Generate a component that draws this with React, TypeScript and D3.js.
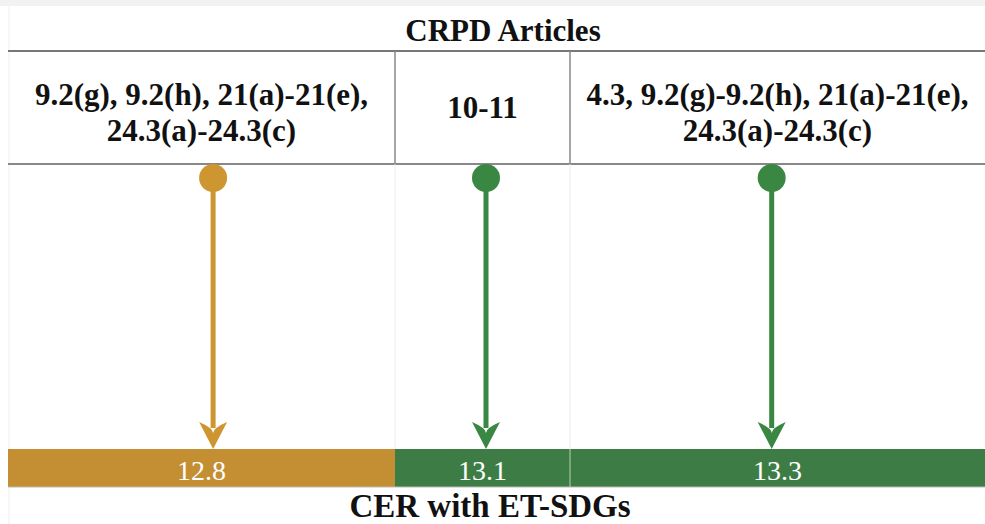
import * as d3 from "d3"

// CRPD article groups (one per column) and the CER value they map to
const articleLines: string[][] = [
  ["9.2(g), 9.2(h), 21(a)-21(e),", "24.3(a)-24.3(c)"],
  ["10-11"],
  ["4.3, 9.2(g)-9.2(h), 21(a)-21(e),", "24.3(a)-24.3(c)"],
]
const cerValues = [12.8, 13.1, 13.3]
const sdgGroup = ["ochre", "green", "green"]
const headerTitle = "CRPD Articles"
const footerTitle = "CER with ET-SDGs"

// layout
const W = 985
const H = 524
const left = 8
const colWeights = [387, 175, 415]
const arrowFrac = [0.53, 0.52, 0.486] // where the arrow sits inside its column
const yTop = 51
const yRow = 164
const yBarTop = 449
const yBarBot = 487
const serif = { fontFamily: "Liberation Serif" }

const barColor = d3.scaleOrdinal<string, string>().domain(["ochre", "green"]).range(["#C48E32", "#3D7D45"])
const markColor = d3.scaleOrdinal<string, string>().domain(["ochre", "green"]).range(["#CD9631", "#3A8744"])

export default function App() {
  const cum = d3.cumsum(colWeights)
  const x = d3.scaleLinear().domain([0, cum[cum.length - 1]]).range([left, W])
  const edges = [0, ...Array.from(cum)].map((v) => x(v))
  const cols = cerValues.map((v, i) => ({
    value: v,
    group: sdgGroup[i],
    lines: articleLines[i],
    x0: edges[i],
    x1: edges[i + 1],
    cx: (edges[i] + edges[i + 1]) / 2,
    ax: d3.interpolateNumber(edges[i], edges[i + 1])(arrowFrac[i]),
  }))

  const dotY = 178
  const headLen = 27
  const headHalf = 14

  return (
    <svg width={W} height={H} style={{ position: "absolute", left: 0, top: 0, background: "#fff" }}>
      <rect x={0} y={0} width={W} height={6} fill="#f2f2f2" />
      <line x1={left + 1} x2={left + 1} y1={6} y2={H} stroke="#eeeeee" strokeWidth={1} />

      <text x={503} y={41} textAnchor="middle" fontSize={31} fontWeight="bold" fill="#111" style={serif}>
        {headerTitle}
      </text>

      <line x1={left} x2={W} y1={yTop} y2={yTop} stroke="#777" strokeWidth={1.8} />
      <line x1={left} x2={W} y1={yRow} y2={yRow} stroke="#888" strokeWidth={1.8} />

      {edges.slice(1, -1).map((ex, i) => (
        <g key={"d" + i}>
          <line x1={ex} x2={ex} y1={yTop} y2={yRow} stroke="#888" strokeWidth={1.5} />
          <line x1={ex} x2={ex} y1={yRow} y2={yBarTop} stroke="#ececec" strokeWidth={1} />
        </g>
      ))}

      {cols.map((c, i) => {
        const mid = (yTop + yRow) / 2
        const n = c.lines.length
        const lh = 36
        const shift = n > 1 ? 5 : 0
        return (
          <text key={"t" + i} textAnchor="middle" fontSize={31} fontWeight="bold" fill="#111" style={serif}>
            {c.lines.map((l, j) => (
              <tspan key={j} x={c.cx} y={mid + 10 + shift + (j - (n - 1) / 2) * lh}>
                {l}
              </tspan>
            ))}
          </text>
        )
      })}

      {cols.map((c, i) => (
        <g key={"a" + i}>
          <line
            x1={c.ax}
            x2={c.ax}
            y1={dotY}
            y2={yBarTop - headLen + 6}
            stroke={markColor(c.group)}
            strokeWidth={5}
          />
          <path
            d={`M${c.ax - headHalf},${yBarTop - headLen} L${c.ax},${yBarTop} L${c.ax + headHalf},${yBarTop - headLen} Q${c.ax},${yBarTop - headLen + 6} ${c.ax},${yBarTop - headLen + 11} Q${c.ax},${yBarTop - headLen + 6} ${c.ax - headHalf},${yBarTop - headLen}Z`}
            fill={markColor(c.group)}
          />
          <circle cx={c.ax} cy={dotY} r={14} fill={markColor(c.group)} />
        </g>
      ))}

      {cols.map((c, i) => (
        <rect
          key={"b" + i}
          x={c.x0}
          y={yBarTop}
          width={c.x1 - c.x0}
          height={yBarBot - yBarTop}
          fill={barColor(c.group)}
        />
      ))}
      {edges.slice(1, -1).map((ex, i) =>
        sdgGroup[i] === sdgGroup[i + 1] ? (
          <line key={"bd" + i} x1={ex} x2={ex} y1={yBarTop} y2={yBarBot} stroke="#b9cdb9" strokeWidth={1} />
        ) : null
      )}
      <line x1={left} x2={W} y1={yBarBot} y2={yBarBot} stroke="#bbb" strokeWidth={1} />

      {cols.map((c, i) => (
        <text key={"v" + i} x={c.cx} y={480} textAnchor="middle" fontSize={28} fill="#fff" style={serif}>
          {d3.format(".1f")(c.value)}
        </text>
      ))}

      <text x={490} y={517} textAnchor="middle" fontSize={33} fontWeight="bold" fill="#111" style={serif}>
        {footerTitle}
      </text>
    </svg>
  )
}
